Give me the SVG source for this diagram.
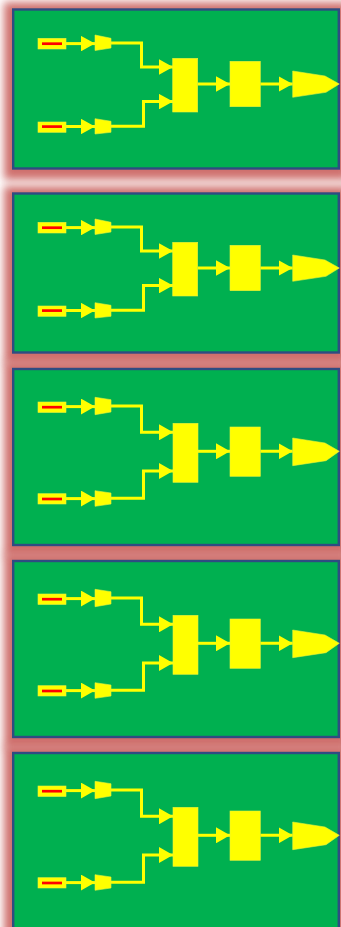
<svg xmlns="http://www.w3.org/2000/svg" width="341" height="927" viewBox="0 0 341 927">
  <style>
    .panel { fill: #00B050; stroke: #2E4C82; stroke-width: 2.4; }
    .shadow { fill: #C0504D; filter: url(#glow); }
    .yel { fill: #FFFF00; stroke: #E6F03C; stroke-width: 0.6; }
    .red { stroke: #FF0000; stroke-width: 2.7; fill: none; }
    .conn { fill: none; stroke: #FFFF00; stroke-width: 3; }
    .connA { marker-end: url(#ahA); }
    .connB { marker-end: url(#ahB); }
  </style>
  <defs>
    <filter id="glow" x="-20%" y="-30%" width="140%" height="160%" color-interpolation-filters="sRGB">
      <feMorphology in="SourceAlpha" operator="dilate" radius="8" result="d"/>
      <feGaussianBlur in="d" stdDeviation="4" result="b"/>
      <feOffset in="b" dx="0" dy="2" result="o"/>
      <feFlood flood-color="#C4504D" flood-opacity="0.82"/>
      <feComposite in2="o" operator="in"/>
    </filter>
    <marker id="ahA" markerUnits="userSpaceOnUse" markerWidth="14" markerHeight="15.4" viewBox="0 0 14 15.4" refX="14" refY="7.7" orient="auto">
      <path d="M0,0 L14,7.7 L0,15.4 Z" fill="#FFFF00"/>
    </marker>
    <marker id="ahB" markerUnits="userSpaceOnUse" markerWidth="14" markerHeight="16" viewBox="0 0 14 16" refX="14" refY="8" orient="auto">
      <path d="M0,0 L14,8 L0,16 Z" fill="#FFFF00"/>
    </marker>
  </defs>
  <rect width="341" height="927" fill="#FFFFFF"/>

  <g id="shadows">
    <rect class="shadow" x="12" y="8.3" width="328" height="161.4"/>
    <rect class="shadow" x="12" y="192.3" width="328" height="161.4"/>
    <rect class="shadow" x="12" y="367.8" width="328" height="178.4"/>
    <rect class="shadow" x="12" y="559.8" width="328" height="178.4"/>
    <rect class="shadow" x="12" y="751.8" width="328" height="180"/>
  </g>

  <!-- Panel 1 -->
  <g id="panel1">
    <rect class="panel" x="13.2" y="9.5" width="325.6" height="159"/>
    <g id="p1-connectors">
      <path class="conn connA" d="M66,43.6 H95"/>
      <path class="conn connA" d="M66,126.5 H95"/>
      <path class="conn connA" d="M111,43 H141.5 V67 H173"/>
      <path class="conn connA" d="M111,126.2 H143.5 V101.6 H173"/>
      <path class="conn connA" d="M197.7,84 H230"/>
      <path class="conn connA" d="M260.3,84 H292.7"/>
    </g>
    <g id="p1-in1"><rect class="yel" x="38" y="38.3" width="28" height="10.7"/><path class="red" d="M42,43.7 H62"/></g>
    <g id="p1-amp1"><polygon class="yel" points="95,35 111,38.3 111,48 95,50.5"/></g>
    <g id="p1-in2"><rect class="yel" x="38" y="122" width="28" height="10.3"/><path class="red" d="M42,126.6 H62"/></g>
    <g id="p1-amp2"><polygon class="yel" points="95,118.7 111,121.3 111,132.3 95,134"/></g>
    <g id="p1-blk1"><rect class="yel" x="172.7" y="58.3" width="25" height="53.7"/></g>
    <g id="p1-blk2"><rect class="yel" x="230" y="61.3" width="30.3" height="45.4"/></g>
    <g id="p1-out"><polygon class="yel" points="292.7,71 325,76 339.3,84 326,92.3 292.7,97.3"/></g>
  </g>

  <!-- Panel 2 -->
  <g id="panel2" transform="translate(0,184)">
    <rect class="panel" x="13.2" y="9.5" width="325.6" height="159"/>
    <g id="p2-connectors">
      <path class="conn connA" d="M66,43.6 H95"/>
      <path class="conn connA" d="M66,126.5 H95"/>
      <path class="conn connA" d="M111,43 H141.5 V67 H173"/>
      <path class="conn connA" d="M111,126.2 H143.5 V101.6 H173"/>
      <path class="conn connA" d="M197.7,84 H230"/>
      <path class="conn connA" d="M260.3,84 H292.7"/>
    </g>
    <g id="p2-in1"><rect class="yel" x="38" y="38.3" width="28" height="10.7"/><path class="red" d="M42,43.7 H62"/></g>
    <g id="p2-amp1"><polygon class="yel" points="95,35 111,38.3 111,48 95,50.5"/></g>
    <g id="p2-in2"><rect class="yel" x="38" y="122" width="28" height="10.3"/><path class="red" d="M42,126.6 H62"/></g>
    <g id="p2-amp2"><polygon class="yel" points="95,118.7 111,121.3 111,132.3 95,134"/></g>
    <g id="p2-blk1"><rect class="yel" x="172.7" y="58.3" width="25" height="53.7"/></g>
    <g id="p2-blk2"><rect class="yel" x="230" y="61.3" width="30.3" height="45.4"/></g>
    <g id="p2-out"><polygon class="yel" points="292.7,71 325,76 339.3,84 326,92.3 292.7,97.3"/></g>
  </g>

  <!-- Panel 3 -->
  <g id="panel3">
    <rect class="panel" x="13.2" y="369" width="325.6" height="176"/>
    <g id="p3-connectors">
      <path class="conn connB" d="M66,406.6 H95"/>
      <path class="conn connB" d="M66,498.6 H95"/>
      <path class="conn connB" d="M111,406 H141.5 V432.3 H173"/>
      <path class="conn connB" d="M111,498.3 H143.5 V471 H173"/>
      <path class="conn connB" d="M198,451.3 H230"/>
      <path class="conn connB" d="M260.3,451.3 H292.7"/>
    </g>
    <g id="p3-in1"><rect class="yel" x="38" y="402" width="28" height="10.5"/><path class="red" d="M42,407.2 H62"/></g>
    <g id="p3-amp1"><polygon class="yel" points="95,397.3 111,399.7 111,412 95,414.7"/></g>
    <g id="p3-in2"><rect class="yel" x="38" y="493.7" width="28" height="10.3"/><path class="red" d="M42,499 H62"/></g>
    <g id="p3-amp2"><polygon class="yel" points="95,490.7 111,493 111,504 95,506.3"/></g>
    <g id="p3-blk1"><rect class="yel" x="173" y="423.3" width="25" height="59"/></g>
    <g id="p3-blk2"><rect class="yel" x="230" y="427" width="30.3" height="49.3"/></g>
    <g id="p3-out"><polygon class="yel" points="292.7,438 325,443 339.3,451.3 326,460.7 292.7,465.7"/></g>
  </g>

  <!-- Panel 4 -->
  <g id="panel4" transform="translate(0,192)">
    <rect class="panel" x="13.2" y="369" width="325.6" height="176"/>
    <g id="p4-connectors">
      <path class="conn connB" d="M66,406.6 H95"/>
      <path class="conn connB" d="M66,498.6 H95"/>
      <path class="conn connB" d="M111,406 H141.5 V432.3 H173"/>
      <path class="conn connB" d="M111,498.3 H143.5 V471 H173"/>
      <path class="conn connB" d="M198,451.3 H230"/>
      <path class="conn connB" d="M260.3,451.3 H292.7"/>
    </g>
    <g id="p4-in1"><rect class="yel" x="38" y="402" width="28" height="10.5"/><path class="red" d="M42,407.2 H62"/></g>
    <g id="p4-amp1"><polygon class="yel" points="95,397.3 111,399.7 111,412 95,414.7"/></g>
    <g id="p4-in2"><rect class="yel" x="38" y="493.7" width="28" height="10.3"/><path class="red" d="M42,499 H62"/></g>
    <g id="p4-amp2"><polygon class="yel" points="95,490.7 111,493 111,504 95,506.3"/></g>
    <g id="p4-blk1"><rect class="yel" x="173" y="423.3" width="25" height="59"/></g>
    <g id="p4-blk2"><rect class="yel" x="230" y="427" width="30.3" height="49.3"/></g>
    <g id="p4-out"><polygon class="yel" points="292.7,438 325,443 339.3,451.3 326,460.7 292.7,465.7"/></g>
  </g>

  <!-- Panel 5 -->
  <g id="panel5" transform="translate(0,384)">
    <rect class="panel" x="13.2" y="369" width="325.6" height="180"/>
    <g id="p5-connectors">
      <path class="conn connB" d="M66,406.6 H95"/>
      <path class="conn connB" d="M66,498.6 H95"/>
      <path class="conn connB" d="M111,406 H141.5 V432.3 H173"/>
      <path class="conn connB" d="M111,498.3 H143.5 V471 H173"/>
      <path class="conn connB" d="M198,451.3 H230"/>
      <path class="conn connB" d="M260.3,451.3 H292.7"/>
    </g>
    <g id="p5-in1"><rect class="yel" x="38" y="402" width="28" height="10.5"/><path class="red" d="M42,407.2 H62"/></g>
    <g id="p5-amp1"><polygon class="yel" points="95,397.3 111,399.7 111,412 95,414.7"/></g>
    <g id="p5-in2"><rect class="yel" x="38" y="493.7" width="28" height="10.3"/><path class="red" d="M42,499 H62"/></g>
    <g id="p5-amp2"><polygon class="yel" points="95,490.7 111,493 111,504 95,506.3"/></g>
    <g id="p5-blk1"><rect class="yel" x="173" y="423.3" width="25" height="59"/></g>
    <g id="p5-blk2"><rect class="yel" x="230" y="427" width="30.3" height="49.3"/></g>
    <g id="p5-out"><polygon class="yel" points="292.7,438 325,443 339.3,451.3 326,460.7 292.7,465.7"/></g>
  </g>
</svg>
